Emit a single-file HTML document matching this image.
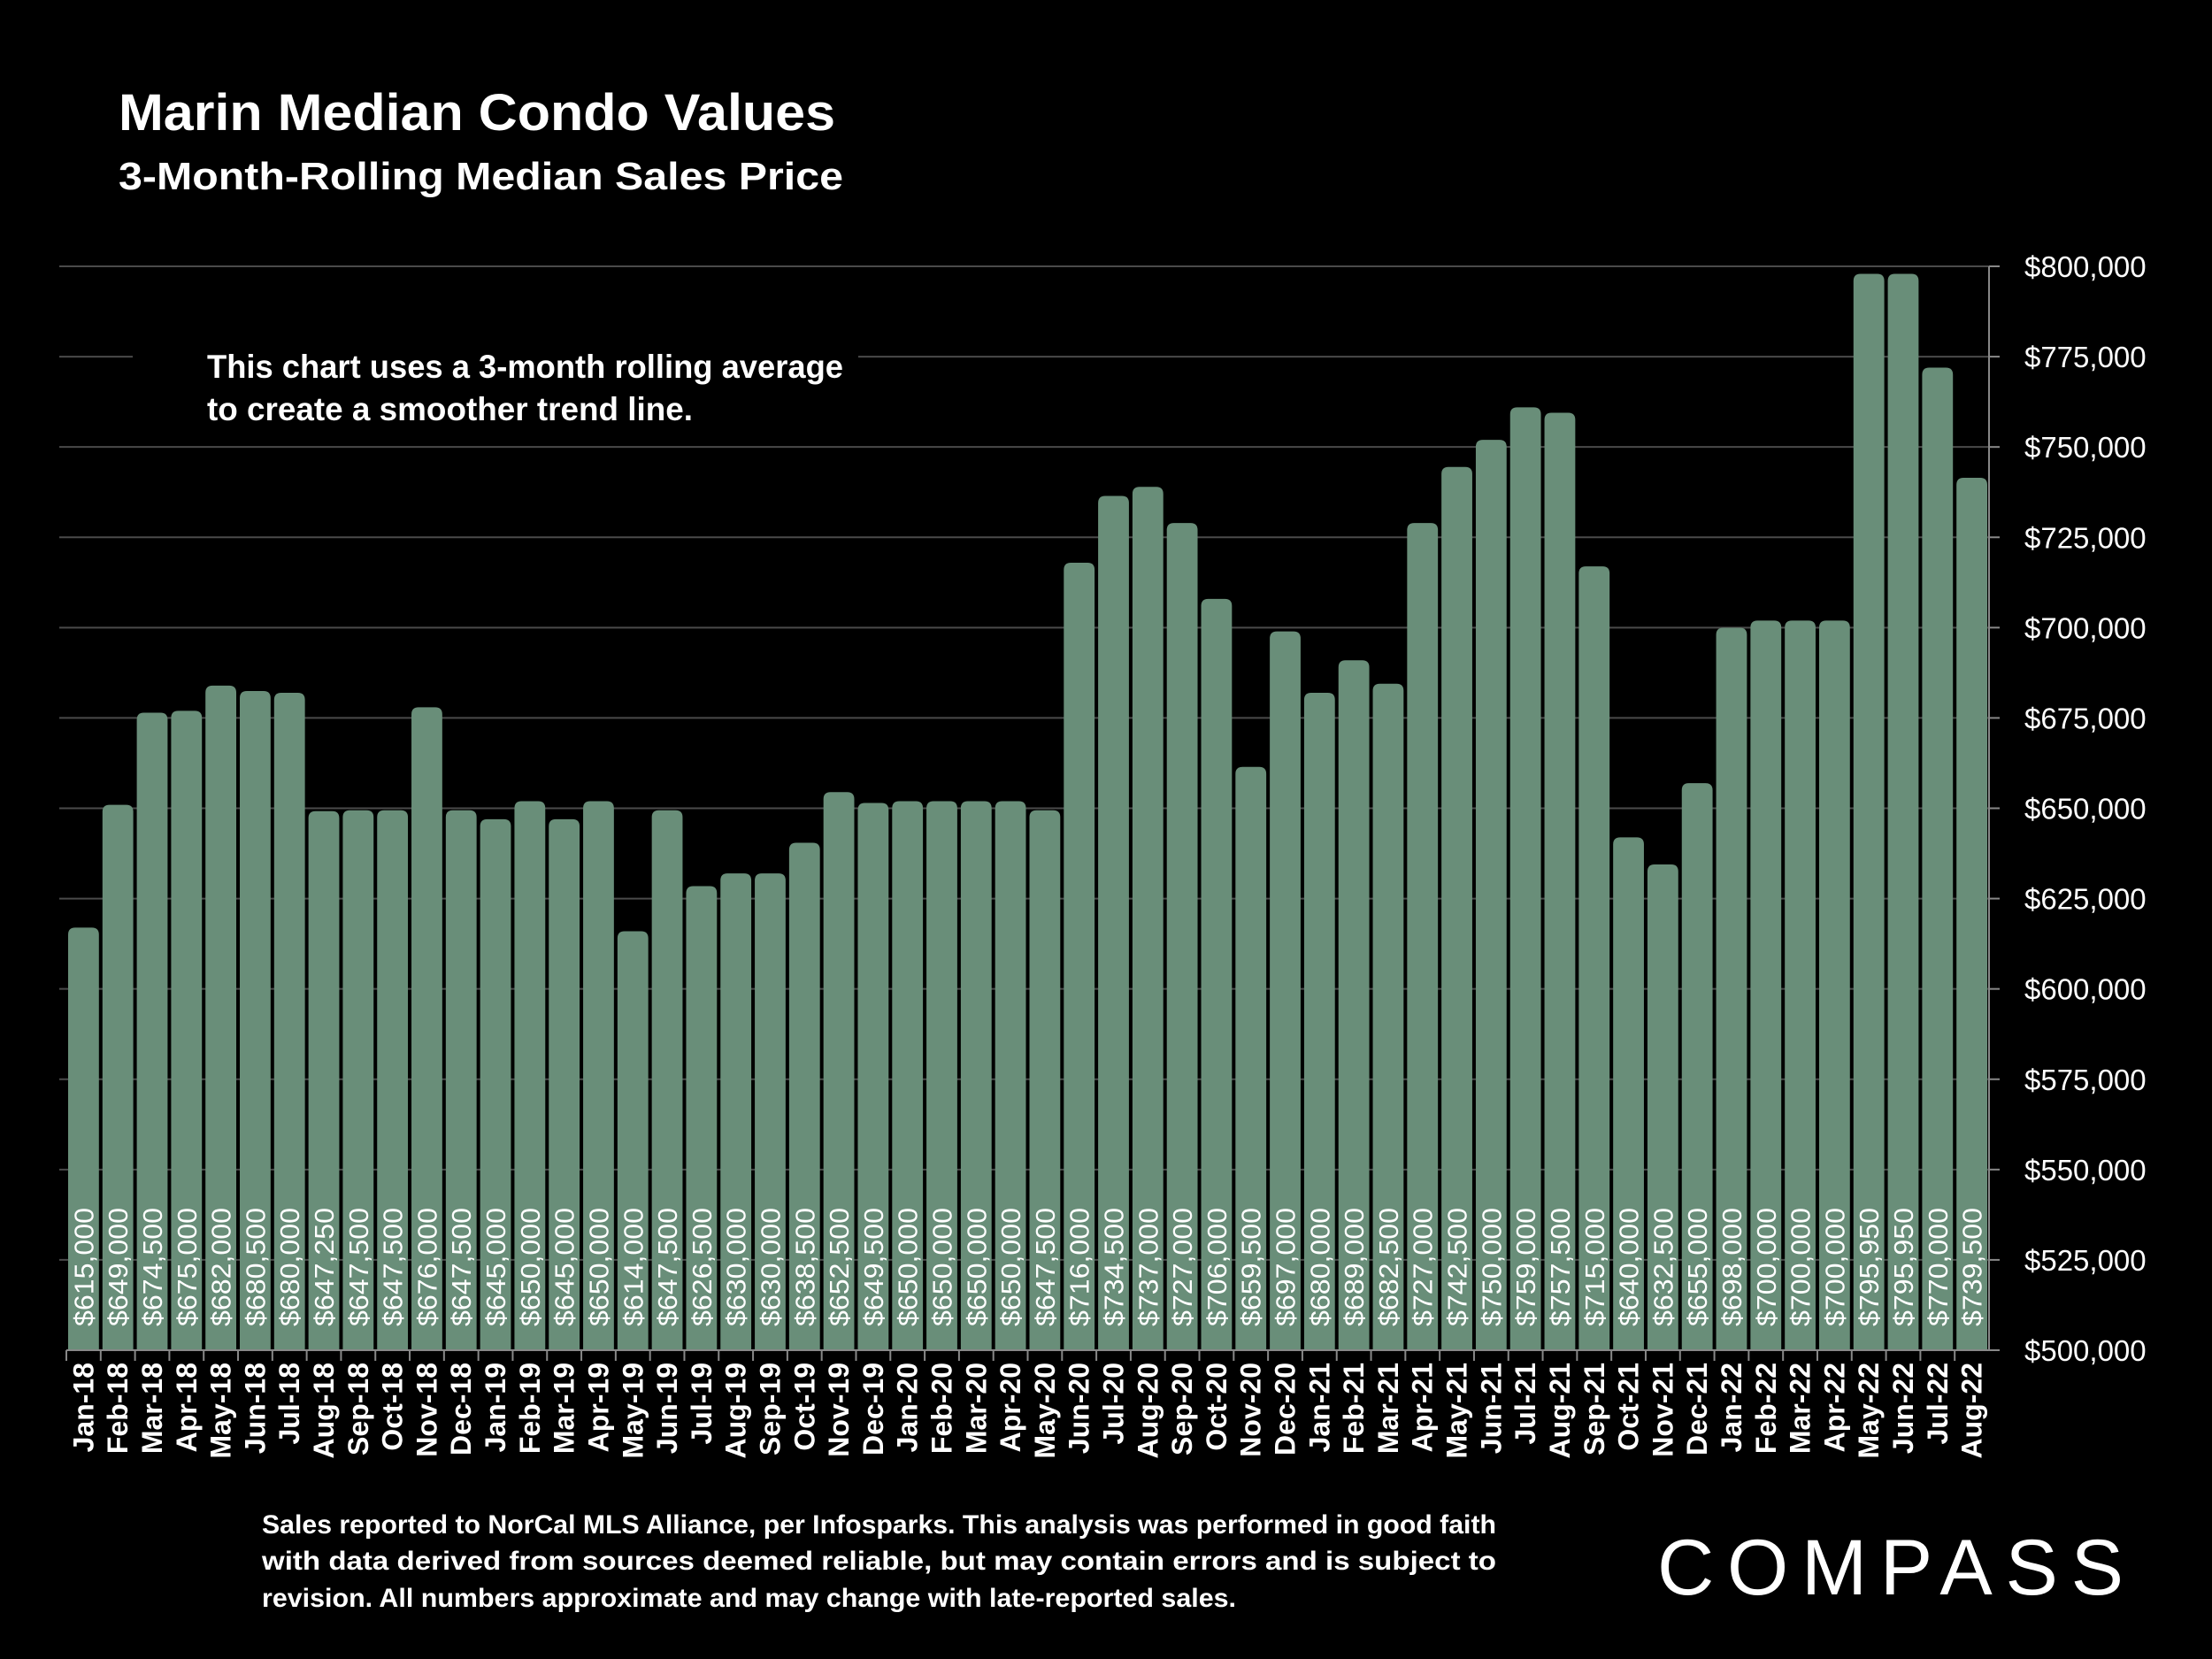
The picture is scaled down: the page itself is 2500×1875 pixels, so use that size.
<!DOCTYPE html>
<html><head><meta charset="utf-8"><style>
html,body{margin:0;padding:0;background:#000;}
svg{display:block;}
text{font-family:"Liberation Sans",sans-serif;fill:#fff;}
</style></head><body>
<svg id="chart" width="2500" height="1875" viewBox="0 0 2500 1875" xmlns="http://www.w3.org/2000/svg">
<rect x="0" y="0" width="2500" height="1875" fill="#000"/>
<text x="134" y="147" font-size="58" font-weight="bold" textLength="810" lengthAdjust="spacingAndGlyphs">Marin Median Condo Values</text>
<text x="134" y="214" font-size="44" font-weight="bold" textLength="819" lengthAdjust="spacingAndGlyphs">3-Month-Rolling Median Sales Price</text>
<g id="grid"></g>
<rect x="150" y="370" width="820" height="130" fill="#000"/>
<text x="234" y="427" font-size="37" font-weight="bold" textLength="719" lengthAdjust="spacingAndGlyphs">This chart uses a 3-month rolling average</text>
<text x="234" y="475" font-size="37" font-weight="bold" textLength="549" lengthAdjust="spacingAndGlyphs">to create a smoother trend line.</text>
<g id="bars"></g>
<g id="axes"></g>
<text x="296" y="1733" font-size="30" font-weight="bold" textLength="1395" lengthAdjust="spacingAndGlyphs">Sales reported to NorCal MLS Alliance, per Infosparks. This analysis was performed in good faith</text>
<text x="296" y="1774" font-size="30" font-weight="bold" textLength="1395" lengthAdjust="spacingAndGlyphs">with data derived from sources deemed reliable, but may contain errors and is subject to</text>
<text x="296" y="1816" font-size="30" font-weight="bold" textLength="1101" lengthAdjust="spacingAndGlyphs">revision. All numbers approximate and may change with late-reported sales.</text>
<text x="1873" y="1802" font-size="89" textLength="527" lengthAdjust="spacing">COMPASS</text>
</svg>
<script>
const categories = ["Jan-18","Feb-18","Mar-18","Apr-18","May-18","Jun-18","Jul-18","Aug-18","Sep-18","Oct-18","Nov-18","Dec-18","Jan-19","Feb-19","Mar-19","Apr-19","May-19","Jun-19","Jul-19","Aug-19","Sep-19","Oct-19","Nov-19","Dec-19","Jan-20","Feb-20","Mar-20","Apr-20","May-20","Jun-20","Jul-20","Aug-20","Sep-20","Oct-20","Nov-20","Dec-20","Jan-21","Feb-21","Mar-21","Apr-21","May-21","Jun-21","Jul-21","Aug-21","Sep-21","Oct-21","Nov-21","Dec-21","Jan-22","Feb-22","Mar-22","Apr-22","May-22","Jun-22","Jul-22","Aug-22"];
const values = [615000,649000,674500,675000,682000,680500,680000,647250,647500,647500,676000,647500,645000,650000,645000,650000,614000,647500,626500,630000,630000,638500,652500,649500,650000,650000,650000,650000,647500,716000,734500,737000,727000,706000,659500,697000,680000,689000,682500,727000,742500,750000,759000,757500,715000,640000,632500,655000,698000,700000,700000,700000,795950,795950,770000,739500];
const yTicks = [500000,525000,550000,575000,600000,625000,650000,675000,700000,725000,750000,775000,800000];
const yMin = 500000, yMax = 800000;
const NS = "http://www.w3.org/2000/svg";
const plotL = 75, plotR = 2248, plotT = 301, plotB = 1526;
const band = (plotR - plotL) / categories.length;
function yScale(v){ return plotB - (v - yMin) / (yMax - yMin) * (plotB - plotT); }
function xScale(i){ return plotL + i * band; }
function fmt(v){ return "$" + v.toLocaleString("en-US"); }
function mk(tag, attrs, parent){ const e = document.createElementNS(NS, tag); for (const k in attrs) e.setAttribute(k, attrs[k]); parent.appendChild(e); return e; }
const grid = document.getElementById("grid"), bars = document.getElementById("bars"), axes = document.getElementById("axes");
yTicks.forEach(t => {
  const y = yScale(t);
  if (t > yMin) {
    const l = mk("line", {x1: 67, x2: plotR, y1: y, y2: y, stroke: "#4a4a4a", "stroke-width": 2}, grid);
    
    
  }
  const tk = mk("line", {x1: plotR, x2: plotR + 12, y1: y, y2: y, stroke: "#888", "stroke-width": 2}, axes);
  
  
  const lb = mk("text", {x: 2288, y: y + 12, "font-size": 33}, axes);
  lb.textContent = fmt(t);
  
  
});
const ax = mk("line", {x1: plotR, x2: plotR, y1: plotT, y2: plotB, stroke: "#888", "stroke-width": 2}, axes);


const bx = mk("line", {x1: plotL, x2: plotR, y1: plotB, y2: plotB, stroke: "#888", "stroke-width": 2}, axes);


const bw = band - 4, r = 8;
values.forEach((v, i) => {
  const x = xScale(i) + 2, y = yScale(v) - 8;
  const p = mk("path", {d: `M${x},${plotB} V${y + r} Q${x},${y} ${x + r},${y} H${x + bw - r} Q${x + bw},${y} ${x + bw},${y + r} V${plotB} Z`, fill: "#698e79"}, bars);
  
  
  const cx = xScale(i) + band / 2;
  const vl = mk("text", {x: 0, y: 0, "font-size": 31, transform: `translate(${cx + 11},1499) rotate(-90)`, textLength: 134, lengthAdjust: "spacingAndGlyphs"}, bars);
  vl.textContent = fmt(v);
  
  
  const xl = mk("text", {x: 0, y: 0, "font-size": 32, "font-weight": "bold", "text-anchor": "end", transform: `translate(${cx + 11},1540) rotate(-90)`}, axes);
  xl.textContent = categories[i];
  
  
  const xt = mk("line", {x1: xScale(i), x2: xScale(i), y1: plotB, y2: plotB + 12, stroke: "#888", "stroke-width": 2}, axes);
  
  
});
</script>
</body></html>
